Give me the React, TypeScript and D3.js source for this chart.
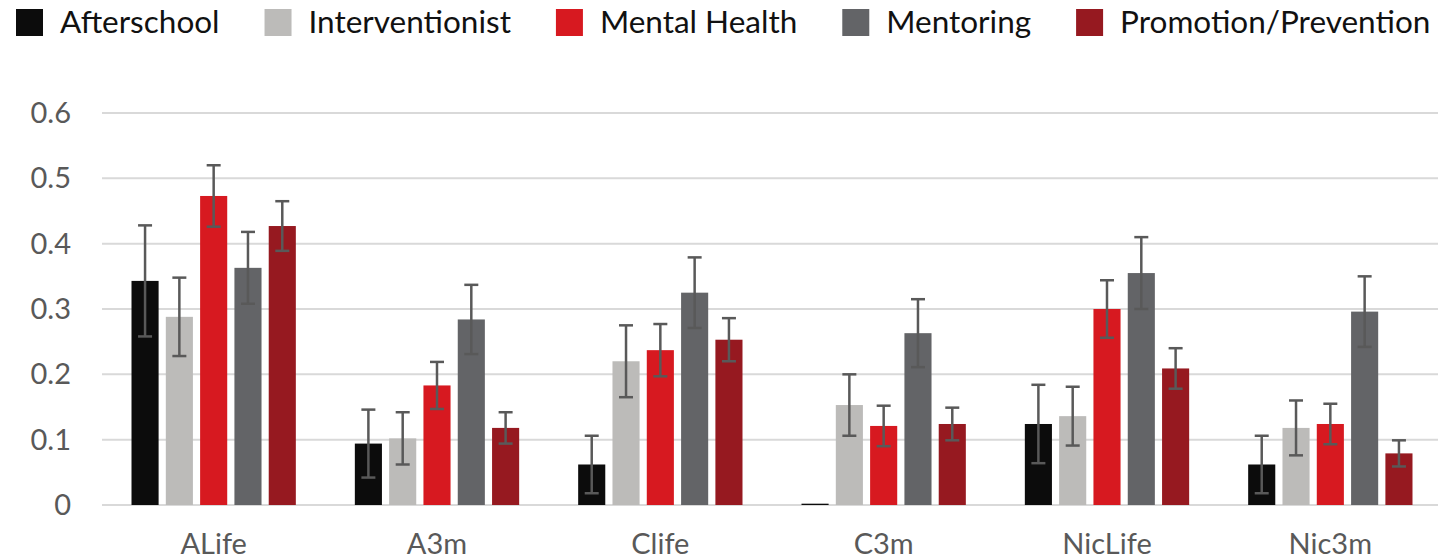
import React, { useEffect, useRef, useState } from "react";
import * as d3 from "d3";

const categories = ["ALife", "A3m", "Clife", "C3m", "NicLife", "Nic3m"];
const seriesNames = ["Afterschool", "Interventionist", "Mental Health", "Mentoring", "Promotion/Prevention"];
const seriesColors = ["#0c0c0c", "#bcbbb9", "#d71920", "#636467", "#961920"];

const afterschool = [0.343, 0.094, 0.062, 0.002, 0.124, 0.062];
const interventionist = [0.288, 0.102, 0.220, 0.153, 0.136, 0.118];
const mentalHealth = [0.473, 0.183, 0.237, 0.121, 0.300, 0.124];
const mentoring = [0.363, 0.284, 0.325, 0.263, 0.355, 0.296];
const promotion = [0.427, 0.118, 0.253, 0.124, 0.209, 0.079];

const afterschoolErr = [0.085, 0.052, 0.044, 0, 0.060, 0.044];
const interventionistErr = [0.060, 0.040, 0.055, 0.047, 0.045, 0.042];
const mentalHealthErr = [0.047, 0.036, 0.040, 0.031, 0.044, 0.031];
const mentoringErr = [0.055, 0.053, 0.054, 0.052, 0.055, 0.054];
const promotionErr = [0.038, 0.024, 0.033, 0.025, 0.031, 0.020];

const yTicks = [0, 0.1, 0.2, 0.3, 0.4, 0.5, 0.6];

const seriesValues = [afterschool, interventionist, mentalHealth, mentoring, promotion];
const seriesErrors = [afterschoolErr, interventionistErr, mentalHealthErr, mentoringErr, promotionErr];

const W = 1438;
const H = 560;
const FONT = "Lato, 'Open Sans', sans-serif";

function Legend() {
  const refs = useRef<(SVGTextElement | null)[]>([]);
  const [widths, setWidths] = useState<number[]>(seriesNames.map(() => 150));
  useEffect(() => {
    const w = refs.current.map((t) => (t ? t.getComputedTextLength() : 150));
    setWidths(w);
  }, []);
  let x = 16;
  const items = seriesNames.map((name, i) => {
    const x0 = x;
    x += 27 + 17 + widths[i] + 45;
    return (
      <g key={name} transform={`translate(${x0},9)`}>
        <rect width={27} height={27} fill={seriesColors[i]} />
        <text
          ref={(el) => (refs.current[i] = el)}
          x={44}
          y={24}
          fontSize={31.5}
          fontFamily={FONT}
          fill="#111"
        >
          {name}
        </text>
      </g>
    );
  });
  return <g>{items}</g>;
}

export default function App() {
  const y = d3.scaleLinear().domain([0, 0.6]).range([505, 113]);
  const x0 = d3.scaleBand<string>().domain(categories).range([102, 1442]).paddingInner(0).paddingOuter(0);
  const x1 = d3
    .scaleBand<string>()
    .domain(seriesNames)
    .range([0, x0.bandwidth()])
    .paddingInner(0.21)
    .paddingOuter(0.86);
  const bw = x1.bandwidth();
  const cap = 7;

  return (
    <svg width={W} height={H} style={{ position: "absolute", left: 0, top: 0, background: "#fff" }}>
      <rect width={W} height={H} fill="#fff" />
      <Legend />
      {yTicks.map((t) => (
        <g key={t}>
          <line x1={102} x2={W} y1={y(t)} y2={y(t)} stroke="#d9d9d9" strokeWidth={2} />
          <text
            x={71}
            y={y(t)}
            dy="0.35em"
            textAnchor="end"
            fontSize={29}
            fontFamily={FONT}
            fill="#595959"
          >
            {d3.format("")(t)}
          </text>
        </g>
      ))}
      {categories.map((c, ci) => (
        <g key={c} transform={`translate(${x0(c)},0)`}>
          {seriesNames.map((s, si) => {
            const v = seriesValues[si][ci];
            const e = seriesErrors[si][ci];
            const bx = x1(s)!;
            const cx = bx + bw / 2;
            return (
              <g key={s}>
                <rect
                  x={bx}
                  y={y(v)}
                  width={bw}
                  height={y(0) - y(v)}
                  fill={seriesColors[si]}
                />
                {e > 0 && (
                  <g stroke="#595959" strokeWidth={2.5} fill="none">
                    <line x1={cx} x2={cx} y1={y(v + e)} y2={y(v - e)} />
                    <line x1={cx - cap} x2={cx + cap} y1={y(v + e)} y2={y(v + e)} />
                    <line x1={cx - cap} x2={cx + cap} y1={y(v - e)} y2={y(v - e)} />
                  </g>
                )}
              </g>
            );
          })}
          <text
            x={x0.bandwidth() / 2}
            y={554}
            textAnchor="middle"
            fontSize={29}
            fontFamily={FONT}
            fill="#595959"
          >
            {c}
          </text>
        </g>
      ))}
    </svg>
  );
}
